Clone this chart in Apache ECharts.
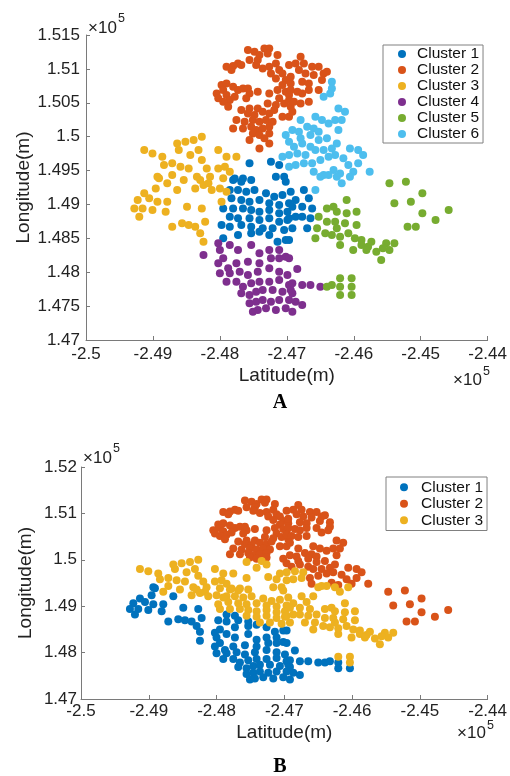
<!DOCTYPE html>
<html>
<head>
<meta charset="utf-8">
<script src="https://cdn.jsdelivr.net/npm/echarts@6/dist/echarts.min.js"></script>
<style>
  html, body { margin: 0; padding: 0; background: #fff; }
  #chart { width: 510px; height: 776px; }
</style>
</head>
<body>
<div id="chart"></div>
<script>
// point groups (metres); panel B regroups the same points
const c1Upper = [[-247557,149606],[-247237,149630],[-247114,149581],[-247778,149384],[-247655,149384],[-247163,149409],[-247040,149409],
  [-247802,149360],[-247680,149336],[-247532,149360],[-247016,149336],
  [-247852,149213],[-247729,149213],[-247606,149188],[-247483,149213],[-247311,149164],[-247188,149114],[-247065,149139],[-246942,149188],
  [-247827,149090],[-247680,149065],[-247557,149041],[-247409,149065],[-247262,149016],[-247114,148991],[-246967,149016],
  [-247950,148942],[-247802,148942],[-247655,148942],[-247532,148918],[-247409,148893],[-247262,148918],[-247114,148869],[-246991,148893],
  [-247557,148795],[-247409,148770],[-247262,148795],[-247114,148746],[-246991,148770],
  [-247360,148647],[-247212,148647],[-247040,148623],[-246917,148647],
  [-246745,149213],[-246868,149065],[-246671,149090],[-246917,148967],[-246770,148967],[-246622,148942],[-246966,148795],[-246868,148819],[-246770,148819],[-246647,148795],[-246696,148647]];
const c1Lower = [[-247852,148819],[-247729,148795],[-247975,148697],[-247852,148672],[-247680,148697],[-247532,148672],[-247950,148500],
  [-247729,148549],[-247532,148574],[-247409,148598],[-247262,148549],[-247139,148451],[-247016,148475],[-246966,148475]];

const c2Main = [[-247581,151277],[-247483,151253],[-247409,151204],[-247335,151302],[-247262,151302],[-247286,151228],[-247139,151204],[-247434,151130],
  [-247557,151130],[-247729,151081],[-247802,151041],[-247901,151032],[-247827,150983],[-247680,151056],[-247458,151056],[-247360,151007],
  [-247262,151032],[-247163,151081],[-247114,150983],[-247065,150933],[-247237,150933],[-247163,150860],[-247016,150835],[-246967,151056],
  [-246942,150786],[-247065,150761],
  [-247975,150761],[-247901,150786],[-247802,150737],[-247729,150688],[-248048,150638],[-247950,150688],[-247901,150614],[-247852,150540],
  [-247950,150515],[-248024,150565],[-247876,150442],[-247778,150589],[-247655,150712],[-247581,150712],[-247557,150638],[-247434,150663],
  [-247606,150565],[-247262,150638],[-247139,150688],[-247016,150663],[-246967,150614],[-247114,150565],[-247286,150491],[-247163,150466],
  [-247040,150491],[-246942,150442],[-247680,150392],[-247557,150417],[-247434,150417],[-247581,150343],[-247483,150319],[-247360,150368],
  [-247262,150343],[-247188,150392],[-247753,150245],[-247630,150220],[-247507,150245],[-247409,150220],[-247311,150245],[-247212,150220],
  [-247065,150294],[-246967,150294],[-247802,150122],[-247655,150122],[-247532,150147],[-247458,150097],[-247360,150122],[-247262,150147],
  [-247507,150048],[-247409,150024],[-247262,150048],
  [-246794,151179],[-246868,151081],[-246745,151081],[-246819,150983],[-246721,150933],[-246622,151032],[-246524,151032],[-246598,150909],
  [-246450,150933],[-246401,150958],[-246475,150835],[-246942,150884],[-246770,150810],[-246671,150786],[-246524,150688],
  [-246942,150688],[-246843,150663],[-246770,150638],[-246671,150688],[-246966,150540],[-246893,150515],[-246794,150491],[-246671,150515],[-246917,150368]];
const c2Low = [[-247557,149950],[-247409,149827],[-247262,149901],[-247335,149975]];

const c3Upper = [[-249130,149802],[-249007,149753],[-248860,149704],[-248638,149901],[-248515,149925],[-248392,149950],[-248270,149999],
  [-248614,149802],[-248442,149729],[-248319,149802],[-248024,149802],[-247901,149704],[-247753,149704],[-248835,149581],[-248712,149606],
  [-248589,149557],[-248466,149532],[-248270,149655],[-248196,149532],[-248024,149532],[-247925,149557],[-247852,149483],[-248712,149434],
  [-248343,149409],[-248147,149409],[-248540,149360],[-248294,149360],[-248171,149311],[-247950,149385],[-248786,149311],
  [-248368,149237],[-248245,149286],[-248122,149213],[-247999,149237],[-247901,149188],[-247975,149041]];
const c3Lower = [[-248933,149409],[-248909,149385],[-248958,149237],[-248638,149213],[-249228,149065],[-249056,149090],[-249130,149164],
  [-248933,149041],[-248786,149041],[-249278,148942],[-249155,148942],[-249007,148918],[-248810,148893],[-248491,148967],[-248270,148942],
  [-249204,148819],[-248712,148672],[-248565,148721],[-248466,148697],[-248368,148672],[-248220,148746],[-248294,148574],[-248245,148451]];

const c4 = [[-248245,148254],[-248024,148426],[-248000,148328],[-247852,148401],[-247729,148328],[-247532,148401],[-247409,148279],
  [-247262,148328],[-247114,148328],[-247016,148229],[-248024,148131],[-247950,148205],[-247876,148057],[-247753,148131],[-247581,148156],
  [-247409,148131],[-247237,148205],[-247114,148205],[-248000,147984],[-247852,147984],[-247704,148008],[-247581,147959],[-247434,148008],
  [-247262,148057],[-247114,148008],[-246991,147959],[-247901,147861],[-247753,147861],[-247655,147787],[-247532,147836],[-247409,147861],
  [-247262,147861],[-247114,147885],[-246967,147812],[-247680,147689],[-247557,147664],[-247458,147713],[-247360,147738],[-247212,147738],
  [-247065,147713],[-246942,147738],[-247557,147541],[-247458,147566],[-247360,147590],[-247237,147566],[-247114,147590],[-246967,147590],
  [-247434,147443],[-247311,147467],[-247163,147443],[-247016,147467],[-246917,147418],[-247507,147418],
  [-246966,148205],[-246917,147836],[-246770,147811],[-246647,147811],[-246499,147787],[-246917,147689],[-246868,147565],[-246770,147516],[-246844,148047]];

const c5East = [[-245467,149311],[-245221,149336],[-244975,149164],[-245393,149016],[-245147,149041],[-244582,148918],[-244975,148869],
  [-244778,148770],[-245196,148672],[-245073,148672]];
const c5Band = [[-246106,149065],[-246401,148942],[-246303,148967],[-246253,148893],[-246524,148819],[-245958,148893],[-246106,148869],
  [-246401,148746],[-246278,148746],[-246131,148721],[-245958,148697],[-246548,148647],[-246426,148574],[-246327,148549],[-246253,148647],
  [-246204,148524],[-246081,148574],[-245983,148500],[-245885,148475],[-246573,148500],[-246204,148401],[-246008,148328],[-245885,148401],
  [-245786,148377],[-245737,148451],[-245663,148303],[-245516,148426],[-245393,148426],[-245467,148328],[-245565,148352],[-245590,148180],[-245811,148328]];
const c5SouthUp = [[-246204,147910],[-246032,147910],[-246032,147787]];
const c5SouthLow = [[-246204,147787],[-246204,147664],[-246032,147664],[-246401,147787],[-246327,147811]];

const c6Main = [[-246327,150810],[-246327,150712],[-246352,150638],[-246450,150589],[-246229,150417],[-246131,150368],[-246278,150245],
  [-246180,150245],[-246794,150245],[-246573,150294],[-246475,150245],[-246376,150196],[-246917,150097],[-246819,150073],[-246696,150147],
  [-246598,150122],[-246524,150073],[-246229,150097],[-246794,149975],[-246647,150024],[-246893,149852],[-246770,149901],[-246647,149852],
  [-246524,149950],[-246401,149975],[-246573,149802],[-246450,149802],[-246327,149827],[-246253,149901],[-246057,149827],[-245934,149802],
  [-245860,149729],[-246622,149606],[-246499,149655],[-246376,149704],[-246278,149729],[-246155,149680],[-246081,149581],[-245934,149606],
  [-245762,149483],[-246598,149483],[-246302,149507],[-246204,149458],[-246007,149483],[-247016,150024],[-246967,149925]];
const c6Low = [[-246966,149729],[-246843,149753],[-246868,149581],[-246745,149606],[-246721,149729],[-246966,149557],[-246450,149434],
  [-247065,149704],[-246499,149409],[-246376,149434],[-246253,149409],[-246057,149409],[-246180,149311],[-246573,149213]];

// panel A: six clusters
const aCluster1 = [...c1Upper, ...c1Lower];
const aCluster2 = [...c2Main, ...c2Low];
const aCluster3 = [...c3Upper, ...c3Lower];
const aCluster4 = c4;
const aCluster5 = [...c5East, ...c5Band, ...c5SouthUp, ...c5SouthLow];
const aCluster6 = [...c6Main, ...c6Low];
// panel B: three clusters
const bCluster1 = [...c1Lower, ...c3Lower, ...c4, ...c5SouthLow];
const bCluster2 = [...c2Main, ...c6Main, ...c5East];
const bCluster3 = [...c1Upper, ...c2Low, ...c3Upper, ...c5Band, ...c5SouthUp, ...c6Low];

const namesA = ['Cluster 1', 'Cluster 2', 'Cluster 3', 'Cluster 4', 'Cluster 5', 'Cluster 6'];
const namesB = ['Cluster 1', 'Cluster 2', 'Cluster 3'];
const colors = ['#0072BD', '#D95319', '#EDB120', '#7E2F8E', '#77AC30', '#4DBEEE'];

const FONT = '"Liberation Sans", Arial, Helvetica, sans-serif';
const AXIS = '#7a7a7a';
const TEXT = '#222';
const fmt = (v) => String(parseFloat((v / 1e5).toFixed(4)));

function xAxis(gridIndex, gap, margin) {
  return {
    type: 'value', gridIndex, min: -250000, max: -244000, interval: 1000,
    name: 'Latitude(m)', nameLocation: 'middle', nameGap: gap, nameMoveOverlap: false,
    nameTextStyle: { fontFamily: FONT, fontSize: 19, color: TEXT, verticalAlign: 'top' },
    axisLine: { onZero: false, lineStyle: { color: AXIS, width: 1 } },
    axisTick: { inside: true, length: 4, lineStyle: { color: AXIS } },
    axisLabel: { fontFamily: FONT, fontSize: 17, color: TEXT, margin, formatter: fmt },
    splitLine: { show: false }
  };
}

function yAxis(gridIndex, min, max, interval, gap, margin) {
  return {
    type: 'value', gridIndex, min, max, interval,
    name: 'Longitude(m)', nameLocation: 'middle', nameGap: gap, nameMoveOverlap: false,
    nameTextStyle: { fontFamily: FONT, fontSize: 19, color: TEXT },
    axisLine: { show: true, onZero: false, lineStyle: { color: AXIS, width: 1 } },
    axisTick: { show: true, inside: true, length: 4, lineStyle: { color: AXIS } },
    axisLabel: { fontFamily: FONT, fontSize: 17, color: TEXT, margin, formatter: fmt },
    splitLine: { show: false }
  };
}

function legend(names, left, top, padding, lineHeight, textPad) {
  return {
    data: names, orient: 'vertical', left, top, padding, itemGap: 0,
    icon: 'circle', itemWidth: 8, itemHeight: 8,
    borderColor: '#808080', borderWidth: 1, backgroundColor: '#fff',
    selectedMode: false,
    textStyle: { fontFamily: FONT, fontSize: 15.5, lineHeight, color: '#111', padding: [0, 0, 0, textPad] }
  };
}

function scatter(name, data, color, idx) {
  return {
    type: 'scatter', name, data, xAxisIndex: idx, yAxisIndex: idx,
    symbol: 'circle', symbolSize: 8,
    itemStyle: { color, opacity: 1 },
    emphasis: { disabled: true }
  };
}

function tenPow(x, y, fx, fy) {
  return [
    { type: 'text', x, y, style: { text: '×10', fontFamily: FONT, fontSize: 17, fill: TEXT, verticalAlign: 'middle' } },
    { type: 'text', x: fx, y: fy, style: { text: '5', fontFamily: FONT, fontSize: 12.5, fill: TEXT, verticalAlign: 'middle' } }
  ];
}

const aSeries = [aCluster1, aCluster2, aCluster3, aCluster4, aCluster5, aCluster6]
  .map((d, i) => scatter(namesA[i], d, colors[i], 0));
const bSeries = [bCluster1, bCluster2, bCluster3]
  .map((d, i) => scatter(namesB[i], d, colors[i], 1));

const chart = echarts.init(document.getElementById('chart'));
chart.setOption({
  animation: false,
  backgroundColor: '#fff',
  grid: [
    { left: 86, top: 35, width: 407, height: 305 },
    { left: 81, top: 467, width: 416, height: 232 }
  ],
  xAxis: [xAxis(0, 26, 6), xAxis(1, 24, 4)],
  yAxis: [yAxis(0, 147000, 151500, 500, 53, 6), yAxis(1, 147000, 152000, 1000, 46, 4)],
  legend: [
    legend(namesA, 383, 45, [1, 4, 1, 15], 16, 6),
    legend(namesB, 386, 477, [2, 4, 2, 14], 16.5, 8)
  ],
  graphic: [
    ...tenPow(88, 28, 118, 19),
    ...tenPow(453, 380, 483, 372),
    ...tenPow(83, 458, 113, 449),
    ...tenPow(457, 733, 487, 726),
    { type: 'text', x: 280, y: 403, style: { text: 'A', fontFamily: '"Liberation Serif", "Times New Roman", serif', fontWeight: 'bold', fontSize: 20, fill: '#000', align: 'center', verticalAlign: 'middle' } },
    { type: 'text', x: 280, y: 767, style: { text: 'B', fontFamily: '"Liberation Serif", "Times New Roman", serif', fontWeight: 'bold', fontSize: 20, fill: '#000', align: 'center', verticalAlign: 'middle' } }
  ],
  series: [...aSeries, ...bSeries]
});
</script>
</body>
</html>
